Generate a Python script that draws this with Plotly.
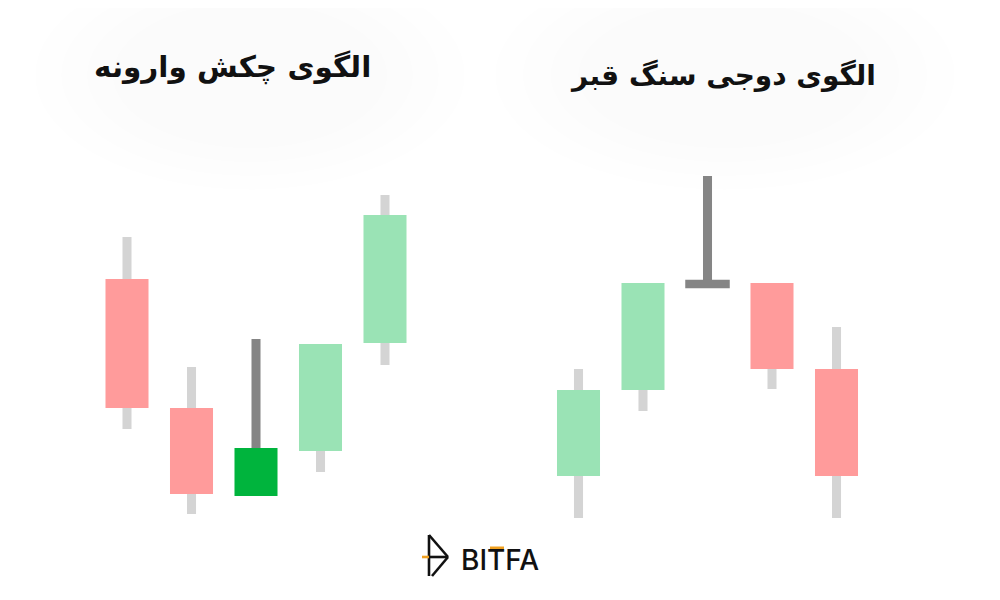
import plotly.graph_objects as go

# ---- data ----
positions = [0, 1, 2, 3, 4, 7, 8, 9, 10, 11]
opens  = [32.1, 19.2, 10.4, 14.9, 25.7, 12.4, 21.0, 31.6, 31.7, 23.1]
highs  = [36.3, 23.3, 26.1, 25.6, 40.5, 23.1, 31.7, 42.4, 31.7, 27.3]
lows   = [17.1,  8.6, 10.4, 12.8, 23.5,  8.2, 18.9, 31.6, 21.1,  8.2]
closes = [19.2, 10.6, 15.2, 25.6, 38.5, 21.0, 31.7, 31.6, 23.1, 12.4]
kinds  = ["bear", "bear", "hammer", "bull", "bull", "bull", "bull", "doji", "bear", "bear"]

title_left = "الگوی چکش وارونه"
title_right = "الگوی دوجی سنگ قبر"
brand = "BITFA"

# ---- styles ----
body_colors = {"bear": "#ff9b9b", "bull": "#9ae3b5", "hammer": "#00b43d", "doji": "#858585"}
wick_colors = {"bear": "#d4d4d4", "bull": "#d4d4d4", "hammer": "#858585", "doji": "#858585"}
BODY_W = 0.667
WICK_W = 0.14
DOJI_H = 0.85
OFF = 8  # page body margin in the viewer

bases, heights, bcols, bwidths = [], [], [], []
for o, c, k in zip(opens, closes, kinds):
    lo, hi = min(o, c), max(o, c)
    if hi - lo < 0.01:
        lo, hi = o - DOJI_H / 2, o + DOJI_H / 2
        bwidths.append(0.69)
    else:
        bwidths.append(BODY_W)
    bases.append(lo)
    heights.append(hi - lo)
    bcols.append(body_colors[k])

fig = go.Figure()
fig.add_trace(go.Bar(
    x=positions, y=[h - l for h, l in zip(highs, lows)], base=lows,
    width=[WICK_W] * len(positions),
    marker=dict(color=[wick_colors[k] for k in kinds], line=dict(width=0)),
    hoverinfo="skip",
))
fig.add_trace(go.Bar(
    x=positions, y=heights, base=bases, width=bwidths,
    marker=dict(color=bcols, line=dict(width=0)),
    customdata=list(zip(opens, highs, lows, closes)),
    hovertemplate="O %{customdata[0]}<br>H %{customdata[1]}<br>L %{customdata[2]}<br>C %{customdata[3]}<extra></extra>",
))

def px(x):
    return (x - OFF) / 1000

def py(y):
    return 1 - (y - OFF) / 600

shapes = []
# very soft halos behind the titles (stacked for a gentle fade)
for cx, rx in ((250, 215), (725, 230)):
    for k in range(4):
        s = 1 - 0.12 * k
        shapes.append(dict(type="circle", xref="paper", yref="paper",
                           x0=px(cx - rx * s), x1=px(cx + rx * s),
                           y0=py(75 + 115 * s), y1=py(75 - 115 * s),
                           fillcolor="rgba(0,0,0,0.004)", line=dict(width=0), layer="below"))

def seg(x0, y0, x1, y1, color="#111111", w=2.6):
    return dict(type="line", xref="paper", yref="paper",
                x0=px(x0), x1=px(x1), y0=py(y0), y1=py(y1),
                line=dict(color=color, width=w))

shapes += [
    seg(429, 535, 429, 576),
    seg(429, 535, 448, 557),
    seg(448, 557, 432, 576),
    seg(429, 557, 448, 557),
    seg(422, 557, 429, 557, color="#f0a020"),
    seg(490, 548, 504, 548, color="#f0a020", w=3),
]

annotations = [
    dict(text=f"<b>{title_left}</b>", x=px(232.5), y=py(68), xref="paper", yref="paper",
         showarrow=False, xanchor="center", yanchor="middle",
         font=dict(family="DejaVu Sans", size=29.5, color="#111111")),
    dict(text=f"<b>{title_right}</b>", x=px(723), y=py(76), xref="paper", yref="paper",
         showarrow=False, xanchor="center", yanchor="middle",
         font=dict(family="DejaVu Sans", size=28, color="#111111")),
    dict(text=brand, x=px(500), y=py(560), xref="paper", yref="paper",
         showarrow=False, xanchor="center", yanchor="middle",
         font=dict(family="Inter", size=28, color="#111111", weight=500)),
]

fig.update_layout(
    width=1000, height=600,
    margin=dict(l=0, r=0, t=0, b=0),
    barmode="overlay",
    showlegend=False,
    paper_bgcolor="white", plot_bgcolor="white",
    xaxis=dict(range=[(OFF - 127) / 64.5, (1000 + OFF - 127) / 64.5], visible=False, fixedrange=True),
    yaxis=dict(range=[(600 - OFF - 600) / 10, (600 - OFF) / 10], visible=False, fixedrange=True),
    shapes=shapes,
    annotations=annotations,
)
fig.write_html("out.html")
